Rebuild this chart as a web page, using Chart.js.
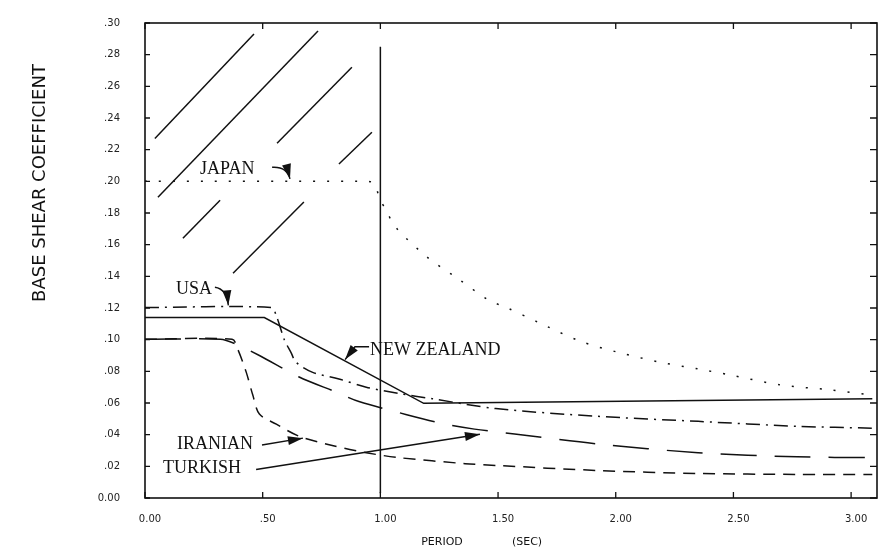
<!DOCTYPE html>
<html>
<head>
<meta charset="utf-8">
<script src="https://cdn.jsdelivr.net/npm/chart.js@4.4.1/dist/chart.umd.min.js"></script>
<style>
body { margin: 0; background: #fff; }
#wrap { width: 881px; height: 550px; }
</style>
</head>
<body>
<div id="wrap"><canvas id="shearChart"></canvas></div>
<script>
// axis ticks
var xTicks = [0, 0.5, 1.0, 1.5, 2.0, 2.5, 3.0];
var xTickLabels = ['0.00', '.50', '1.00', '1.50', '2.00', '2.50', '3.00'];
var yTicks = [0, 0.02, 0.04, 0.06, 0.08, 0.10, 0.12, 0.14, 0.16, 0.18, 0.20, 0.22, 0.24, 0.26, 0.28, 0.30];
var yTickLabels = ['0.00', '.02', '.04', '.06', '.08', '.10', '.12', '.14', '.16', '.18', '.20', '.22', '.24', '.26', '.28', '.30'];

// code curves, period (sec) vs base shear coefficient
var japanT = [0, 0.92, 0.97, 1.0, 1.02, 1.065, 1.2, 1.33, 1.46, 1.54, 1.67, 1.85, 2.01, 2.19, 2.35, 2.49, 2.70, 2.91, 3.08];
var japanC = [0.20, 0.20, 0.199, 0.188, 0.183, 0.171, 0.152, 0.1385, 0.125, 0.120, 0.111, 0.099, 0.092, 0.0857, 0.0815, 0.0776, 0.0714, 0.0683, 0.0652];

var usaT = [0, 0.536, 0.558, 0.592, 0.62, 0.642, 0.71, 0.824, 0.94, 1.078, 1.22, 1.49, 1.92, 2.35, 2.77, 3.09];
var usaC = [0.1203, 0.1203, 0.115, 0.100, 0.092, 0.0857, 0.0795, 0.0752, 0.070, 0.066, 0.0627, 0.0565, 0.0516, 0.0484, 0.0453, 0.0441];

var nzT = [0, 0.507, 1.184, 3.09];
var nzC = [0.114, 0.114, 0.0598, 0.0627];

var turkT = [0, 0.32, 0.39, 0.486, 0.655, 0.81, 0.909, 1.108, 1.277, 1.40, 1.57, 1.92, 2.35, 2.77, 3.09];
var turkC = [0.1002, 0.1002, 0.097, 0.090, 0.0764, 0.067, 0.0609, 0.0528, 0.0466, 0.0435, 0.0404, 0.0342, 0.0286, 0.026, 0.0255];

var iranT = [0, 0.37, 0.394, 0.43, 0.458, 0.486, 0.558, 0.655, 0.80, 0.94, 1.078, 1.36, 1.50, 1.92, 2.35, 2.77, 3.09];
var iranC = [0.1002, 0.1002, 0.094, 0.0795, 0.065, 0.053, 0.0466, 0.039, 0.033, 0.0286, 0.0255, 0.0217, 0.0205, 0.0174, 0.0155, 0.0149, 0.0149];

// hatching in the upper left corner: [x1, y1, x2, y2]
var hatchSegments = [
    [0.042, 0.227, 0.463, 0.293],
    [0.055, 0.190, 0.735, 0.295],
    [0.561, 0.224, 0.879, 0.272],
    [0.824, 0.211, 0.964, 0.231],
    [0.161, 0.164, 0.319, 0.188],
    [0.374, 0.142, 0.675, 0.187]
];
var markerT = [1.0, 1.0];
var markerC = [0.003, 0.285];

// curve labels and their arrows
var labelTexts = ['JAPAN', 'USA', 'NEW ZEALAND', 'IRANIAN', 'TURKISH'];
var labelX = [0.234, 0.132, 0.956, 0.136, 0.076];
var labelY = [0.2046, 0.129, 0.0905, 0.031, 0.0155];
var arrowPaths = [
    {curve: true, pts: [[0.540, 0.2089], [0.603, 0.2095], [0.616, 0.2015]]},
    {curve: true, pts: [[0.297, 0.1331], [0.347, 0.1321], [0.354, 0.1217]]},
    {curve: false, pts: [[0.952, 0.0955], [0.892, 0.0955], [0.850, 0.0874]]},
    {curve: false, pts: [[0.497, 0.0335], [0.671, 0.0378]]},
    {curve: false, pts: [[0.472, 0.018], [1.423, 0.0403]]}
];

function toPoints(xs, ys) {
    var out = [];
    for (var i = 0; i < xs.length; i++) {
        out.push({x: xs[i], y: ys[i]});
    }
    return out;
}

function curve(xs, ys, dash, tension) {
    return {
        data: toPoints(xs, ys),
        borderColor: '#111',
        borderWidth: 1.5,
        borderDash: dash,
        pointRadius: 0,
        tension: tension,
        fill: false
    };
}

var datasets = [
    curve(japanT, japanC, [2, 12], 0.3),
    curve(usaT, usaC, [14, 6, 2, 6], 0.3),
    curve(nzT, nzC, [], 0),
    curve(turkT, turkC, [36, 18], 0.3),
    curve(iranT, iranC, [12, 8], 0.3),
    curve(markerT, markerC, [], 0)
];
hatchSegments.forEach(function(s) {
    datasets.push(curve([s[0], s[2]], [s[1], s[3]], [], 0));
});

function arrowHead(ctx, fx, fy, tx, ty) {
    var a = Math.atan2(ty - fy, tx - fx);
    var len = 15, w = 4.5;
    ctx.beginPath();
    ctx.moveTo(tx, ty);
    ctx.lineTo(tx - len * Math.cos(a) + w * Math.sin(a), ty - len * Math.sin(a) - w * Math.cos(a));
    ctx.lineTo(tx - len * Math.cos(a) - w * Math.sin(a), ty - len * Math.sin(a) + w * Math.cos(a));
    ctx.closePath();
    ctx.fill();
}

var framePlugin = {
    id: 'frame',
    afterDraw: function(chart) {
        var ctx = chart.ctx;
        var a = chart.chartArea;
        var xs = chart.scales.x, ys = chart.scales.y;
        ctx.save();
        ctx.strokeStyle = '#111';
        ctx.fillStyle = '#111';
        ctx.lineWidth = 1.6;
        ctx.strokeRect(a.left, a.top, a.right - a.left, a.bottom - a.top);

        // inward tick marks on all four sides
        ctx.lineWidth = 1.3;
        ctx.beginPath();
        xTicks.forEach(function(v) {
            var p = xs.getPixelForValue(v);
            ctx.moveTo(p, a.bottom); ctx.lineTo(p, a.bottom - 6);
            ctx.moveTo(p, a.top); ctx.lineTo(p, a.top + 6);
        });
        yTicks.forEach(function(v) {
            var p = ys.getPixelForValue(v);
            ctx.moveTo(a.left, p); ctx.lineTo(a.left + 5, p);
            ctx.moveTo(a.right, p); ctx.lineTo(a.right - 7, p);
        });
        ctx.stroke();

        // axis titles
        ctx.font = '18px "DejaVu Sans"';
        ctx.textAlign = 'center';
        ctx.textBaseline = 'middle';
        ctx.save();
        ctx.translate(40, 183);
        ctx.rotate(-Math.PI / 2);
        ctx.fillText('BASE SHEAR COEFFICIENT', 0, 0);
        ctx.restore();
        ctx.font = '11px "DejaVu Sans"';
        ctx.fillText('PERIOD', 442, 542);
        ctx.fillText('(SEC)', 527, 542);

        // curve labels
        ctx.font = '18px "Liberation Serif"';
        ctx.textAlign = 'left';
        ctx.textBaseline = 'alphabetic';
        labelTexts.forEach(function(t, i) {
            ctx.fillText(t, xs.getPixelForValue(labelX[i]), ys.getPixelForValue(labelY[i]));
        });

        ctx.lineWidth = 1.4;
        arrowPaths.forEach(function(ar) {
            var p = ar.pts.map(function(q) {
                return [xs.getPixelForValue(q[0]), ys.getPixelForValue(q[1])];
            });
            ctx.beginPath();
            ctx.moveTo(p[0][0], p[0][1]);
            if (ar.curve) {
                ctx.quadraticCurveTo(p[1][0], p[1][1], p[2][0], p[2][1]);
            } else {
                for (var i = 1; i < p.length; i++) ctx.lineTo(p[i][0], p[i][1]);
            }
            ctx.stroke();
            var n = p.length;
            arrowHead(ctx, p[n - 2][0], p[n - 2][1], p[n - 1][0], p[n - 1][1]);
        });
        ctx.restore();
    }
};

new Chart(document.getElementById('shearChart').getContext('2d'), {
    type: 'line',
    data: {datasets: datasets},
    options: {
        responsive: true,
        maintainAspectRatio: false,
        animation: false,
        layout: {padding: {left: 0, right: 4, top: 14, bottom: 0}},
        plugins: {legend: {display: false}, tooltip: {enabled: false}},
        scales: {
            x: {
                type: 'linear',
                min: 0,
                max: 3.11,
                grid: {display: false},
                border: {display: false},
                afterBuildTicks: function(s) { s.ticks = xTicks.map(function(v) { return {value: v}; }); },
                afterFit: function(s) { s.height = 52; },
                ticks: {
                    padding: 7,
                    maxRotation: 0,
                    autoSkip: false,
                    labelOffset: 5,
                    color: '#222',
                    font: {family: 'DejaVu Sans', size: 10},
                    callback: function(v, i) { return xTickLabels[i]; }
                }
            },
            y: {
                min: 0,
                max: 0.30,
                grid: {display: false},
                border: {display: false},
                afterBuildTicks: function(s) { s.ticks = yTicks.map(function(v) { return {value: v}; }); },
                afterFit: function(s) { s.width = 145; },
                ticks: {
                    padding: 17,
                    autoSkip: false,
                    color: '#222',
                    font: {family: 'DejaVu Sans', size: 10},
                    callback: function(v, i) { return yTickLabels[i]; }
                }
            }
        }
    },
    plugins: [framePlugin]
});
</script>
</body>
</html>
